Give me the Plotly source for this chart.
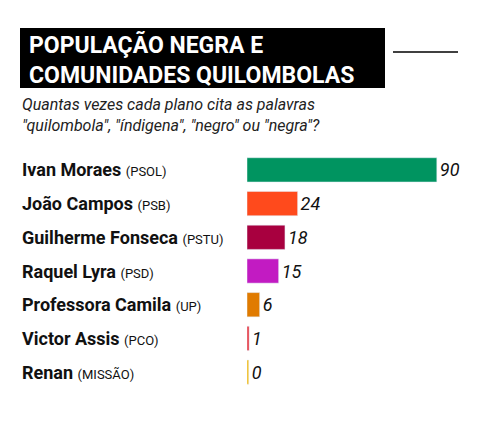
import plotly.graph_objects as go

names = ["Ivan Moraes", "João Campos", "Guilherme Fonseca", "Raquel Lyra",
         "Professora Camila", "Victor Assis", "Renan"]
parties = ["PSOL", "PSB", "PSTU", "PSD", "UP", "PCO", "MISSÃO"]
values = [90, 24, 18, 15, 6, 1, 0]
colors = ["#009460", "#ff4a1c", "#a8003f", "#c21bc2", "#e07b00", "#e8343f", "#f5b800"]

W, H = 494, 431
OX, OY = 8, 8  # page offset
shown = [max(v, 0.8) for v in values]  # keep zero bar visible as a thin line

fig = go.Figure(go.Bar(
    x=shown, y=names, orientation="h",
    marker=dict(color=colors),
    width=0.72,
    text=[str(v) for v in values], textposition="outside",
    textfont=dict(family="Roboto", size=18, color="#111"),
    texttemplate="<i>%{text}</i>",
    cliponaxis=False,
))

for n, p in zip(names, parties):
    fig.add_annotation(x=(20 - OX) / W, xref="paper", y=n, yref="y", xanchor="left",
                       showarrow=False,
                       text=f"<b>{n}</b> <span style='font-size:13px'>({p})</span>",
                       font=dict(family="Roboto", size=18, color="#111"))

fig.add_shape(type="rect", xref="paper", yref="paper",
              x0=(20 - OX) / W, x1=(385 - OX) / W, y0=1 - (88 - OY) / H, y1=1 - (28 - OY) / H,
              fillcolor="black", line_width=0)
fig.add_shape(type="line", xref="paper", yref="paper",
              x0=(393 - OX) / W, x1=(458 - OX) / W, y0=1 - (52 - OY) / H, y1=1 - (52 - OY) / H,
              line=dict(color="black", width=1.5))
fig.add_annotation(x=(27 - OX) / W, y=1 - (29 - OY) / H, xref="paper", yref="paper",
                   xanchor="left", yanchor="top", showarrow=False, align="left",
                   text="<b>POPULAÇÃO NEGRA E<br>COMUNIDADES QUILOMBOLAS</b>",
                   font=dict(family="Roboto", size=23, color="white"))
fig.add_annotation(x=(20 - OX) / W, y=1 - (93 - OY) / H, xref="paper", yref="paper",
                   xanchor="left", yanchor="top", showarrow=False, align="left",
                   text="<i>Quantas vezes cada plano cita as palavras<br>\"quilombola\", \"índigena\", \"negro\" ou \"negra\"?</i>",
                   font=dict(family="Roboto", size=16, color="#222"))

fig.update_layout(
    width=W, height=H, margin=dict(l=0, r=0, t=0, b=0),
    plot_bgcolor="white", paper_bgcolor="white", showlegend=False,
    xaxis=dict(range=[0, 110], domain=[(247 - OX) / W, (479 - OX) / W], visible=False),
    yaxis=dict(autorange="reversed", domain=[1 - (389 - OY) / H, 1 - (153 - OY) / H],
               showticklabels=False, showgrid=False, zeroline=False),
)

fig.write_html("out.html")
